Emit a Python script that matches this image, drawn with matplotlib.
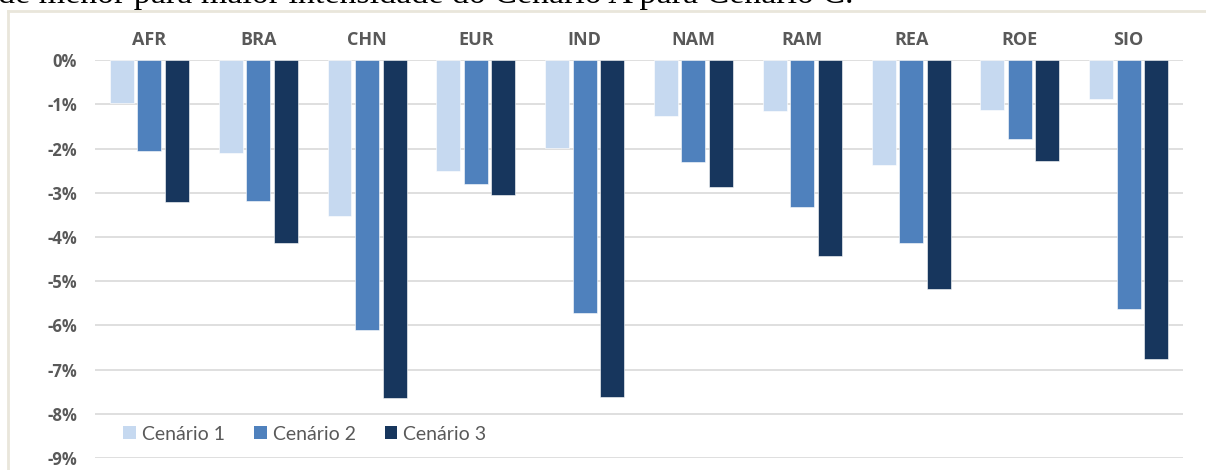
import matplotlib
matplotlib.use("Agg")
import matplotlib.pyplot as plt
from matplotlib.lines import Line2D
from matplotlib.patches import Patch
import numpy as np

regions = ["AFR", "BRA", "CHN", "EUR", "IND", "NAM", "RAM", "REA", "ROE", "SIO"]
cenario_1 = [-0.97, -2.10, -3.53, -2.51, -1.99, -1.27, -1.15, -2.38, -1.12, -0.88]
cenario_2 = [-2.05, -3.19, -6.11, -2.81, -5.72, -2.31, -3.33, -4.14, -1.78, -5.63]
cenario_3 = [-3.21, -4.14, -7.65, -3.05, -7.62, -2.87, -4.43, -5.18, -2.28, -6.76]
series_names = ["Cenário 1", "Cenário 2", "Cenário 3"]
y_ticks = [0, -1, -2, -3, -4, -5, -6, -7, -8, -9]
caption = "de menor para maior intensidade do Cenário A para Cenário C."

colors = ["#C6D9F0", "#4F81BD", "#17365D"]
grey = "#595959"

plt.rcParams["font.family"] = ["Lato", "DejaVu Sans"]

fig = plt.figure(figsize=(12.06, 4.70), dpi=100)
ax = fig.add_axes([0.0788, 0.0255, 0.9022, 0.8465])

x = np.arange(len(regions))
offset = 0.253
width = 0.22
for k, vals in enumerate([cenario_1, cenario_2, cenario_3]):
    ax.bar(x + (k - 1) * offset, vals, width, color=colors[k],
           edgecolor="white", linewidth=0.4, zorder=3)

ax.set_xlim(-0.5, len(regions) - 0.5)
ax.set_ylim(-9, 0)
ax.set_yticks(y_ticks)
ax.set_yticklabels([f"{v}%" for v in y_ticks], fontsize=12,
                   fontweight="bold", color=grey, family=["Open Sans"])
ax.tick_params(axis="y", length=0, pad=13)
ax.yaxis.grid(True, color="#D9D9D9", linewidth=1.2, zorder=0)

ax.xaxis.tick_top()
ax.set_xticks(x)
ax.set_xticklabels(regions, fontsize=13, fontweight="bold", color=grey,
                   family=["Open Sans"])
ax.tick_params(axis="x", length=0, pad=8)

for s in ax.spines.values():
    s.set_visible(False)

handles = [Patch(facecolor=c, edgecolor="none") for c in colors]
leg = ax.legend(handles, series_names, loc="lower left",
                bbox_to_anchor=(0.01, -0.005), ncol=3, frameon=False,
                fontsize=14, handlelength=0.65, handleheight=0.65,
                handletextpad=0.3, columnspacing=1.5)
for t in leg.get_texts():
    t.set_color(grey)

# chart frame border
fig.add_artist(Line2D([8 / 1206, 1.0], [1 - 11 / 470, 1 - 11 / 470],
                      transform=fig.transFigure, color="#E9E6DB", linewidth=2))
fig.add_artist(Line2D([8 / 1206, 8 / 1206], [0, 1 - 11 / 470],
                      transform=fig.transFigure, color="#E9E6DB", linewidth=2))

# caption of the surrounding document, cut off at the top
fig.text(-0.002, 1 - 3 / 470, caption, family=["Liberation Serif"],
         fontsize=24.5, color="black", va="baseline", ha="left")

fig.savefig("out.png", dpi=100)
